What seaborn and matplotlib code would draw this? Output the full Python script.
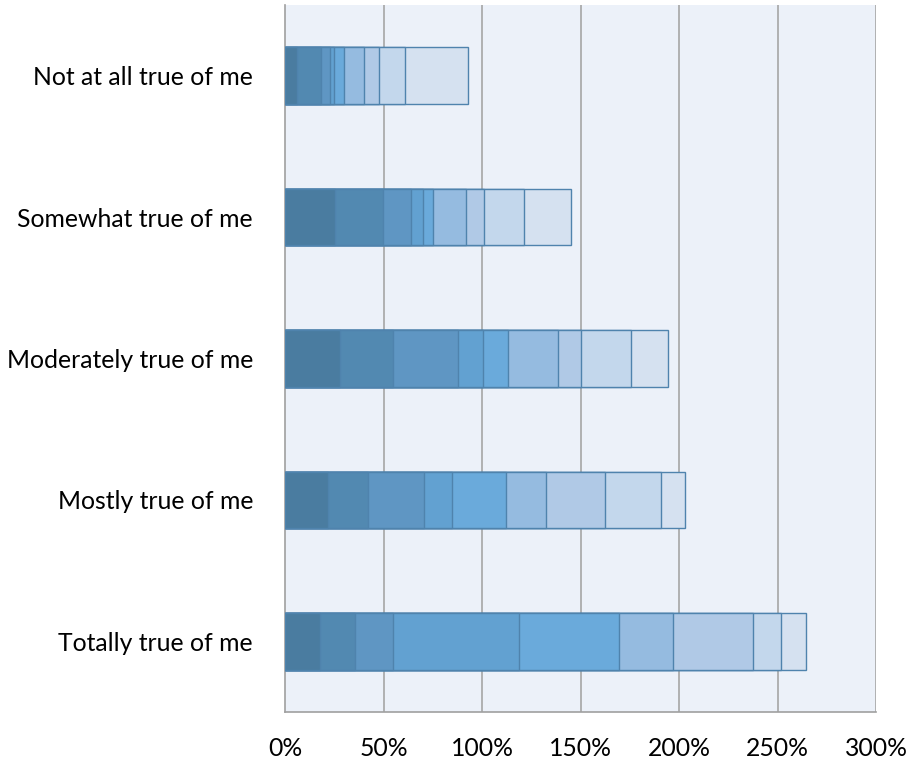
import matplotlib
matplotlib.use("Agg")
import matplotlib.pyplot as plt
import seaborn as sns
import numpy as np
import pandas as pd

categories = ["Not at all true of me", "Somewhat true of me", "Moderately true of me",
              "Mostly true of me", "Totally true of me"]
s1 = [6.2, 25.4, 27.9, 22.0, 17.8]
s2 = [11.9, 24.2, 27.1, 20.0, 17.9]
s3 = [4.6, 14.4, 33.0, 28.4, 19.3]
s4 = [2.2, 5.9, 12.7, 14.5, 64.0]
s5 = [4.9, 5.4, 12.4, 27.1, 50.6]
s6 = [10.2, 16.4, 25.4, 20.3, 27.6]
s7 = [7.8, 9.4, 11.8, 30.1, 40.6]
s8 = [13.2, 20.0, 25.2, 28.4, 14.2]
s9 = [32.1, 23.9, 19.1, 12.2, 12.5]
series = [s1, s2, s3, s4, s5, s6, s7, s8, s9]
colors = ["#4a7ca0", "#5289b1", "#5f96c3", "#62a1d1", "#6aaadb",
          "#95bbe0", "#b0c9e6", "#c3d7ec", "#d5e1f0"]
xticks = [0, 50, 100, 150, 200, 250, 300]
xticklabels = ["0%", "50%", "100%", "150%", "200%", "250%", "300%"]

sns.set_style("white")
plt.rcParams["font.family"] = ["Lato", "DejaVu Sans"]

fig = plt.figure(figsize=(9.07, 7.64), dpi=100)
ax = fig.add_axes([285 / 907, 1 - 712 / 764, (876 - 285) / 907, (712 - 5) / 764])
ax.set_facecolor("#ecf1f9")

cum = np.cumsum(np.array(series), axis=0)
for i in range(len(series) - 1, -1, -1):
    df = pd.DataFrame({"cat": categories, "val": cum[i]})
    sns.barplot(data=df, x="val", y="cat", orient="h", color=colors[i],
                saturation=1, width=0.40, edgecolor="#4f83ad", linewidth=1.0,
                ax=ax, zorder=3)

ax.set_xlim(0, 300)
ax.set_ylim(4.5, -0.5)
ax.set_xticks(xticks)
ax.set_xticklabels(xticklabels, fontsize=17.8, color="black")
ax.set_xlabel("")
ax.set_ylabel("")
ax.set_yticks(range(len(categories)))
ax.set_yticklabels(categories, fontsize=17.8, color="black")
ax.tick_params(axis="y", length=0, pad=23)
ax.set_yticks(np.arange(-0.5, 5.0, 1.0), minor=True)
ax.tick_params(axis="y", which="minor", length=7, color="#a0a0a0", width=1.2)
ax.tick_params(axis="x", length=7, color="#a0a0a0", width=1.2, pad=11)

for x in xticks[1:]:
    ax.axvline(x, color="#a6a6a6", linewidth=1.2, zorder=1)

for side in ["top", "right"]:
    ax.spines[side].set_visible(False)
for side in ["left", "bottom"]:
    ax.spines[side].set_color("#a0a0a0")
    ax.spines[side].set_linewidth(1.2)

fig.savefig("out.png", dpi=100)
